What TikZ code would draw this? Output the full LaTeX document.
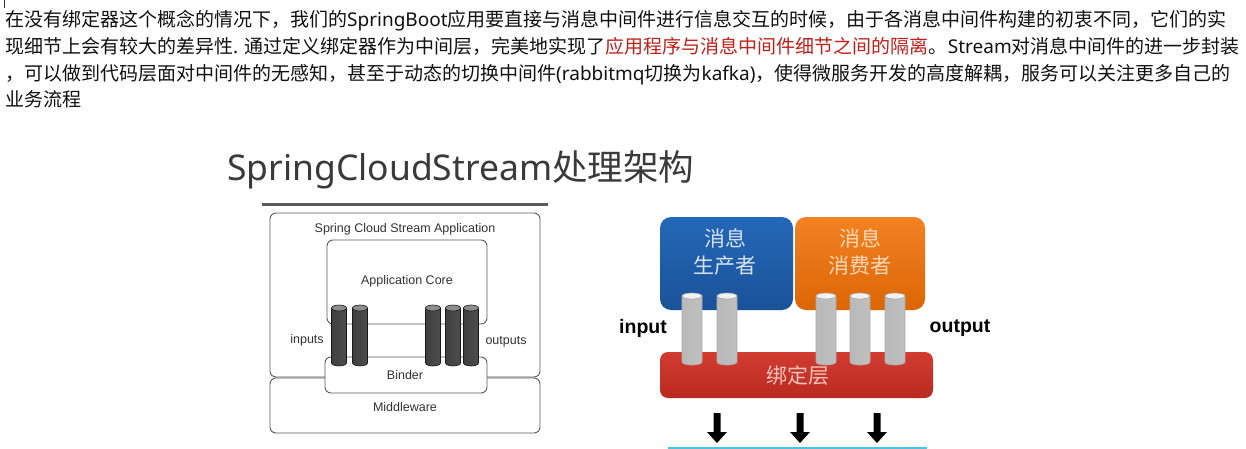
\documentclass[tikz,border=0pt]{standalone}
\usepackage{fontspec}
\setmainfont{Noto Sans CJK SC}
\newfontfamily\latf{Noto Sans}
\newfontfamily\helv{Liberation Sans}
\usetikzlibrary{arrows.meta}
\definecolor{txt}{HTML}{111111}
\definecolor{hl}{HTML}{C0201A}
\definecolor{ttl}{HTML}{3A3A3A}
\definecolor{lg}{HTML}{5A5A5A}
\definecolor{lbl}{HTML}{333333}
\definecolor{bluetop}{HTML}{2468B8}
\definecolor{bluebot}{HTML}{1A5298}
\definecolor{orgtop}{HTML}{F28222}
\definecolor{orgbot}{HTML}{DC6606}
\definecolor{redtop}{HTML}{D23C30}
\definecolor{redbot}{HTML}{B82A22}
\definecolor{cyanline}{HTML}{4FC1E0}
\newcommand{\la}[1]{{\latf #1}}
\tikzset{
  bodyline/.style={anchor=base west, inner sep=0pt, text=txt, font=\fontsize{19}{26}\selectfont},
  graybox/.style={draw=lg, line width=0.9pt, rounded corners=6pt, inner sep=0pt},
  leftlbl/.style={text=lbl, font=\helv\fontsize{12.5}{14}\selectfont, inner sep=0pt},
  colbox/.style={rounded corners=11pt, inner sep=0pt},
  boxtxt/.style={align=center, inner sep=0pt, font=\fontsize{21}{27}\selectfont},
  iolbl/.style={inner sep=0pt, font=\helv\bfseries\fontsize{19.5}{22}\selectfont, text=black},
  pics/darkcyl/.style={code={
    \shade[left color=black!75, middle color=black!30, right color=black!70, draw=black!90, line width=0.6pt]
      (-7.5,0) -- (-7.5,55) arc[start angle=180, end angle=0, x radius=7.5, y radius=3] -- (7.5,0) -- cycle;
    \draw[fill=black!45, draw=black!90, line width=0.6pt] (0,0) ellipse[x radius=7.5, y radius=3];
  }},
  pics/lightcyl/.style={code={
    \shade[left color=gray!55, middle color=gray!8, right color=gray!50, draw=gray!65, line width=0.7pt]
      (-10,0) -- (-10,66) arc[start angle=180, end angle=0, x radius=10, y radius=3] -- (10,0) -- cycle;
    \draw[fill=gray!10, draw=gray!65, line width=0.7pt] (0,0) ellipse[x radius=10, y radius=3];
  }},
  pics/bigarrow/.style={code={
    \fill[black] (-3.5,0) -- (3.5,0) -- (3.5,19) -- (10,19) -- (0,30) -- (-10,19) -- (-3.5,19) -- cycle;
  }}
}
\begin{document}
\begin{tikzpicture}[x=1pt,y=-1pt]
\useasboundingbox[fill=white] (0,0) rectangle (1246,449);

% cursor mark
\coordinate (cur1) at (4.5,0);
\coordinate (cur2) at (4.5,8);
\draw[line width=0.8pt, black!80] (cur1) -- (cur2);

% body text
\node[bodyline] (l1) at (5,27) {在没有绑定器这个概念的情况下，我们的\la{SpringBoot}应用要直接与消息中间件进行信息交互的时候，由于各消息中间件构建的初衷不同，它们的实};
\node[bodyline] (l2) at (5,54) {现细节上会有较大的差异性\la{. }通过定义绑定器作为中间层，完美地实现了\textcolor{hl}{应用程序与消息中间件细节之间的隔离}。\la{Stream}对消息中间件的进一步封装};
\node[bodyline] (l3) at (5,80.5) {，可以做到代码层面对中间件的无感知，甚至于动态的切换中间件\la{(rabbitmq}切换为\la{kafka)}，使得微服务开发的高度解耦，服务可以关注更多自己的};
\node[bodyline] (l4) at (5,107) {业务流程};

% title
\node[anchor=base west, inner sep=0pt, text=ttl, font=\fontsize{35.5}{40}\selectfont] (title) at (227,180.5) {\la{SpringCloudStream}处理架构};
\coordinate (ul1) at (262,204);
\coordinate (ul2) at (548,204);
\draw[line width=3pt, lg] (ul1) -- (ul2);

% left diagram
\node[graybox, minimum width=270pt, minimum height=164pt] (appbox) at (405,295) {};
\node[graybox, minimum width=270pt, minimum height=55pt] (mw) at (405,405.5) {};
\node[graybox, minimum width=160pt, minimum height=84pt] (core) at (407,282) {};
\node[graybox, fill=white, minimum width=162pt, minimum height=36pt] (binder) at (406,375) {};
\node[leftlbl] (t-app) at (405,229) {Spring Cloud Stream Application};
\node[leftlbl] (t-core) at (407,281) {Application Core};
\node[leftlbl] (t-binder) at (405,375) {Binder};
\node[leftlbl] (t-mw) at (405,407) {Middleware};
\node[leftlbl] (t-in) at (307,340) {inputs};
\node[leftlbl] (t-out) at (506,342) {outputs};
\pic (dc1) at (339,308) {darkcyl};
\pic (dc2) at (360,308) {darkcyl};
\pic (dc3) at (433,308) {darkcyl};
\pic (dc4) at (453,308) {darkcyl};
\pic (dc5) at (471,308) {darkcyl};

% right diagram
\node[colbox, top color=bluetop, bottom color=bluebot, minimum width=133pt, minimum height=93pt] (prod) at (726.5,263.5) {};
\node[colbox, top color=orgtop, bottom color=orgbot, minimum width=130pt, minimum height=93pt] (cons) at (860,263.5) {};
\node[colbox, rounded corners=8pt, top color=redtop, bottom color=redbot, minimum width=273pt, minimum height=46pt] (bind) at (796.5,375) {};
\node[boxtxt, text={rgb,255:red,214;green,224;blue,240}] (t-prod) at (725,251.5) {消息\\生产者};
\node[boxtxt, text={rgb,255:red,250;green,216;blue,184}] (t-cons) at (860,251.5) {消息\\消费者};
\node[inner sep=0pt, font=\fontsize{21}{24}\selectfont, text={rgb,255:red,244;green,196;blue,188}] (t-bind) at (798,376) {绑定层};
\pic (lc1) at (692,296) {lightcyl};
\pic (lc2) at (727,296) {lightcyl};
\pic (lc3) at (826,296) {lightcyl};
\pic (lc4) at (860,296) {lightcyl};
\pic (lc5) at (895,296) {lightcyl};
\node[iolbl] (t-input) at (643,328) {input};
\node[iolbl] (t-output) at (960,328) {output};

% arrows
\pic (arr1) at (717,413) {bigarrow};
\pic (arr2) at (800,413) {bigarrow};
\pic (arr3) at (877,413) {bigarrow};

\coordinate (cy1) at (668,448);
\coordinate (cy2) at (927,448);
\draw[line width=2pt, cyanline] (cy1) -- (cy2);
\end{tikzpicture}
\end{document}
